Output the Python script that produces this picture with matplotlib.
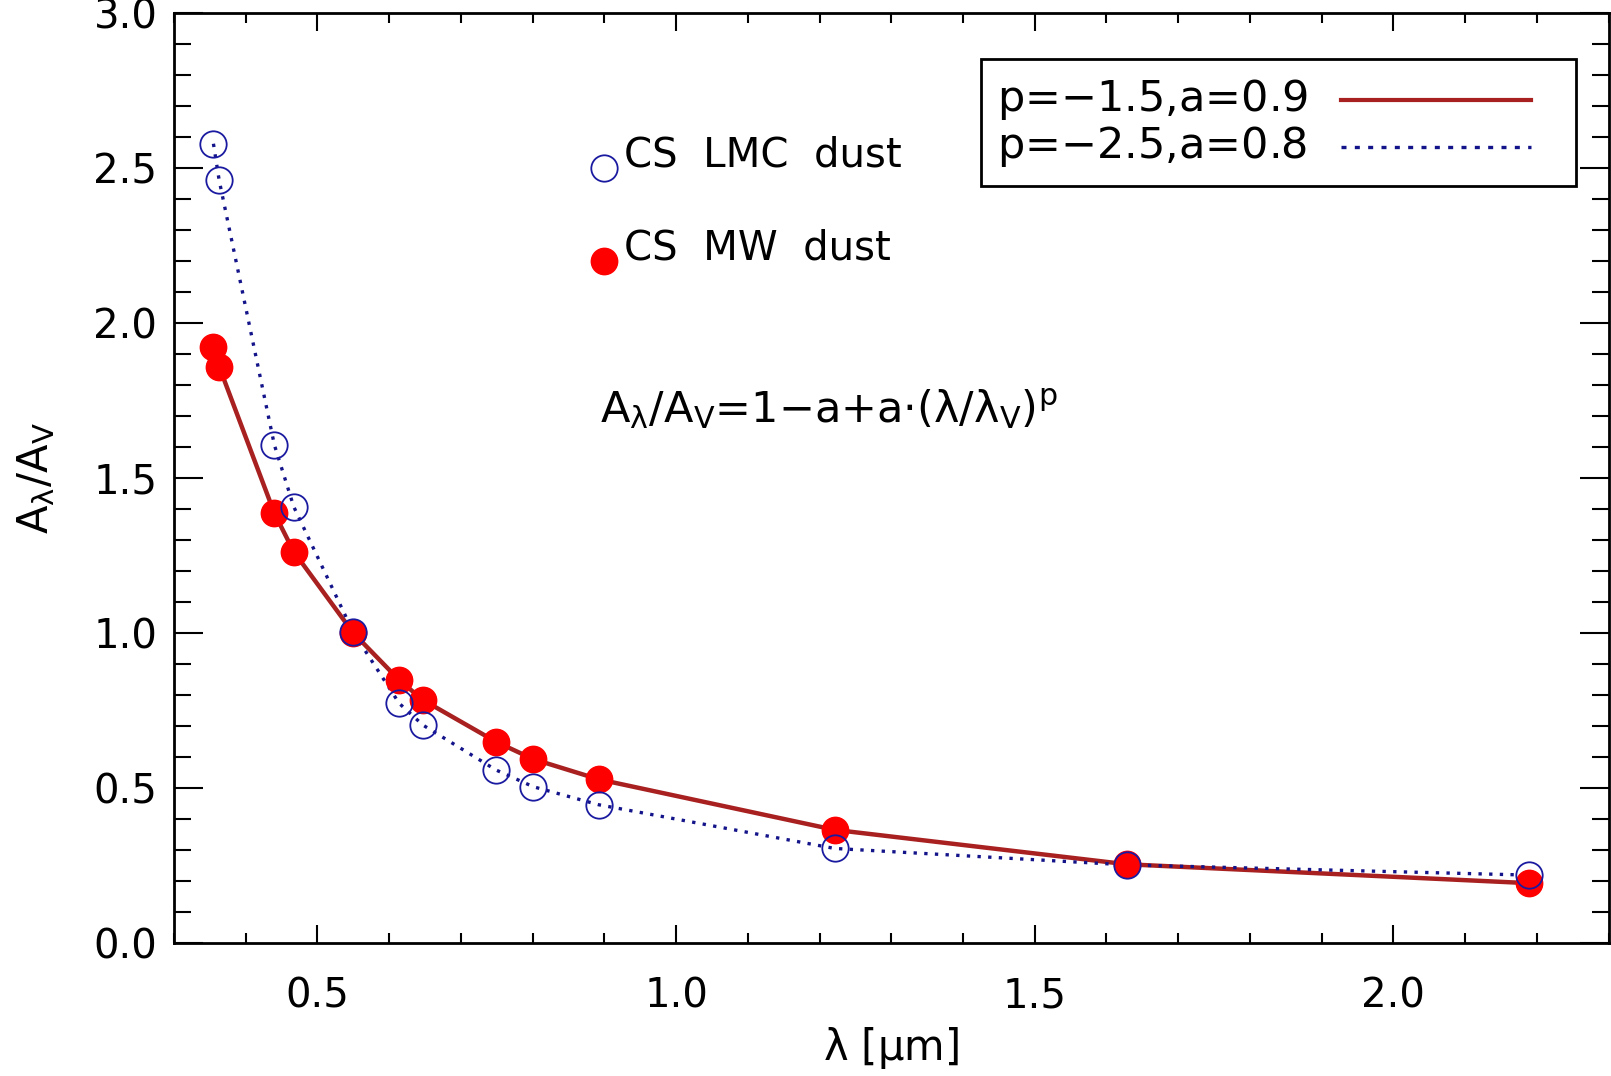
import numpy as np
import matplotlib
matplotlib.use("Agg")
import matplotlib.pyplot as plt
from matplotlib.ticker import MultipleLocator, FormatStrFormatter
from matplotlib.patches import Rectangle

plt.rcParams['font.family'] = ['DejaVu Sans']
plt.rcParams['mathtext.default'] = 'regular'

# band wavelengths [micron]
wave = [0.355, 0.363, 0.440, 0.467, 0.550, 0.614, 0.647, 0.749, 0.801, 0.892, 1.221, 1.628, 2.189]
lmc = [2.578, 2.460, 1.606, 1.407, 1.002, 0.773, 0.703, 0.558, 0.504, 0.446, 0.305, 0.252, 0.219]
mw = [1.924, 1.859, 1.386, 1.262, 1.000, 0.848, 0.784, 0.649, 0.593, 0.528, 0.365, 0.254, 0.193]
model_labels = [r'p=$-$1.5,a=0.9', r'p=$-$2.5,a=0.8']

fig = plt.figure(figsize=(16.11, 10.76), dpi=100)
ax = fig.add_axes([0.108, 0.1236, 0.8905, 0.8644])

line_red = "#a82020"
line_blue = "#14148a"
red_dot = "#ff0000"
blue_ring = "#1a1aa0"
dots = (0, (1, 2.2))

ax.plot(wave, mw, color=line_red, lw=3.2, solid_capstyle='butt', zorder=2)
ax.plot(wave, lmc, color=line_blue, lw=2.4, linestyle=dots, zorder=2)
ax.plot(wave, mw, 'o', ms=19, mfc=red_dot, mec=red_dot, zorder=3)
ax.plot(wave, lmc, 'o', ms=19, mfc='none', mec=blue_ring, mew=1.3, zorder=4)

ax.set_xlim(0.3, 2.3)
ax.set_ylim(0.0, 3.0)
ax.xaxis.set_major_locator(MultipleLocator(0.5))
ax.xaxis.set_minor_locator(MultipleLocator(0.1))
ax.yaxis.set_major_locator(MultipleLocator(0.5))
ax.yaxis.set_minor_locator(MultipleLocator(0.1))
ax.xaxis.set_major_formatter(FormatStrFormatter('%.1f'))
ax.yaxis.set_major_formatter(FormatStrFormatter('%.1f'))

ax.tick_params(axis='both', which='both', direction='in', top=True, right=True, width=1.5, labelsize=29)
ax.tick_params(axis='x', which='major', length=13, pad=24)
ax.tick_params(axis='x', which='minor', length=7)
ax.tick_params(axis='y', which='major', length=21, pad=12)
ax.tick_params(axis='y', which='minor', length=12)
for s in ax.spines.values():
    s.set_linewidth(2)

ax.set_xlabel(r'$\lambda$ [$\mu$m]', fontsize=30, labelpad=6)
ax.set_ylabel(r'$A_\lambda/A_V$', fontsize=30, labelpad=26)

# marker annotations
ax.plot([0.899], [2.50], 'o', ms=19, mfc='none', mec=blue_ring, mew=1.3)
ax.plot([0.899], [2.20], 'o', ms=19, mfc=red_dot, mec=red_dot)
ax.text(0.928, 2.54, 'CS  LMC  dust', fontsize=29, va='center')
ax.text(0.928, 2.24, 'CS  MW  dust', fontsize=29, va='center')
ax.text(0.894, 1.72, r'$A_\lambda/A_V$=1$-$a+a$\cdot$($\lambda/\lambda_V$)$^p$', fontsize=31, va='center')

# legend box, drawn by hand in axes coordinates
tr = ax.transAxes
ax.add_patch(Rectangle((0.5625, 0.8139), 0.4148, 0.1365, transform=tr, fill=False,
                       edgecolor='black', lw=2, zorder=5))
ax.text(0.5734, 0.9067, model_labels[0], transform=tr, fontsize=31, va='center')
ax.text(0.5734, 0.8559, model_labels[1], transform=tr, fontsize=31, va='center')
ax.plot([0.8135, 0.9459], [0.9067, 0.9067], transform=tr, color=line_red, lw=3)
ax.plot([0.8135, 0.9459], [0.8559, 0.8559], transform=tr, color=line_blue, lw=2.4,
        linestyle=(0, (1.5, 2.5)))

fig.savefig("out.png", dpi=100)
